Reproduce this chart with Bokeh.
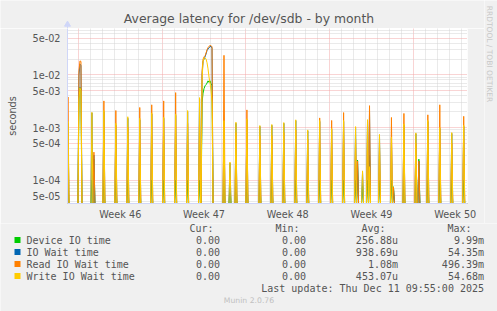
import math
from bokeh.plotting import figure
from bokeh.layouts import column, row
from bokeh.models import FixedTicker, Range1d, CustomJSTickFormatter
from bokeh.core.properties import value
from bokeh.embed import file_html
from bokeh.resources import INLINE

# ---------------- data (hours since Mon 10 Nov 2025 00:00, 2 h resolution) -------------
t_hours = [-21, 1, 3, 5, 27, 31, 51, 75, 99, 123, 147, 171, 195, 219, 243,
           248, 250, 252, 254, 256, 258, 260, 262, 264, 266, 268,
           292, 304, 316, 338, 364, 388, 412, 436, 460, 484, 508, 532, 556, 560,
           570, 580, 584, 604, 628, 632, 653, 677, 683, 701, 725, 749, 773]
device_io = [1.0e-4, 3.5e-3, 5.8e-3, 5.4e-3, 1.0e-4, 2.5e-4, 1.0e-4, 1.0e-4, 1.0e-4, 1.0e-4,
             1.0e-4, 1.0e-4, 1.0e-4, 1.0e-4, 1.0e-4,
             3.0e-3, 4.5e-3, 5.5e-3, 6.2e-3, 6.5e-3, 7.0e-3, 7.7e-3, 7.2e-3, 7.7e-3, 6.8e-3, 6.2e-3,
             1.0e-4, 8.0e-5, 1.0e-4, 1.0e-4, 1.0e-4, 1.0e-4, 1.0e-4, 1.0e-4, 1.0e-4, 1.0e-4,
             1.0e-4, 1.0e-4, 1.0e-4, 2.4e-4, 8.0e-5, 1.0e-4, 3.0e-4, 1.0e-4, 1.0e-4, 7.5e-5,
             1.0e-4, 1.0e-4, 2.5e-4, 1.0e-4, 1.0e-4, 1.0e-4, 1.0e-4]
io_wait = [1.2e-3, 1.0e-2, 1.6e-2, 1.5e-2, 1.9e-3, 3.0e-4, 2.0e-3, 1.1e-3, 1.5e-3, 1.4e-3,
           1.8e-3, 1.5e-3, 1.7e-3, 2.0e-3, 3.5e-3,
           1.0e-2, 1.8e-2, 2.0e-2, 2.2e-2, 2.5e-2, 2.9e-2, 3.1e-2, 3.3e-2, 3.4e-2, 3.5e-2, 3.2e-2,
           1.3e-3, 2.1e-4, 1.2e-3, 1.4e-3, 1.05e-3, 1.1e-3, 1.2e-3, 1.35e-3, 8.6e-4, 1.3e-3,
           9.2e-4, 1.3e-3, 1.0e-3, 2.3e-4, 1.4e-4, 1.35e-3, 2.0e-3, 7.1e-4, 6.4e-4, 7.4e-5,
           1.1e-3, 7.6e-4, 2.3e-4, 1.3e-3, 9.6e-4, 7.7e-4, 1.05e-3]
read_io_wait = [3.8e-3, 1.2e-2, 1.84e-2, 1.8e-2, 0.0, 3.4e-4, 3.2e-3, 2.1e-3, 1.0e-3, 2.4e-3,
                2.7e-3, 3.2e-3, 4.6e-3, 1.2e-3, 1.5e-3,
                1.2e-2, 1.98e-2, 2.2e-2, 2.3e-2, 2.6e-2, 3.0e-2, 3.3e-2, 3.5e-2, 3.6e-2, 3.6e-2, 3.4e-2,
                2.35e-2, 0.0, 8.0e-4, 2.16e-3, 7.0e-4, 7.0e-4, 8.0e-4, 9.0e-4, 6.0e-4, 1.52e-3,
                1.36e-3, 1.92e-3, 6.0e-4, 2.3e-4, 0.0, 9.0e-4, 2.6e-3, 5.0e-4, 1.55e-3, 7.4e-5,
                1.85e-3, 5.0e-4, 2.3e-4, 1.74e-3, 2.7e-3, 5.0e-4, 1.63e-3]
write_io_wait = [1.3e-3, 3.5e-3, 5.6e-3, 5.0e-3, 1.94e-3, 0.0, 2.1e-3, 1.2e-3, 1.6e-3, 1.5e-3,
                 1.9e-3, 1.56e-3, 1.8e-3, 2.1e-3, 3.7e-3,
                 8.0e-3, 1.8e-2, 2.1e-2, 2.1e-2, 2.0e-2, 1.7e-2, 1.3e-2, 9.0e-3, 7.0e-3, 5.0e-3, 3.0e-3,
                 1.35e-3, 2.2e-4, 1.26e-3, 1.46e-3, 1.09e-3, 1.14e-3, 1.24e-3, 1.4e-3, 9.0e-4, 1.36e-3,
                 9.6e-4, 1.36e-3, 1.04e-3, 0.0, 1.5e-4, 1.41e-3, 1.8e-4, 7.4e-4, 6.6e-4, 0.0,
                 1.17e-3, 7.9e-4, 0.0, 1.36e-3, 1.0e-3, 8.0e-4, 1.1e-3]

series_names = ["Device IO time", "IO Wait time", "Read IO Wait time", "Write IO Wait time"]
series_colors = ["#00CC00", "#0066B3", "#FF8000", "#FFCC00"]
cur_vals = ["0.00", "0.00", "0.00", "0.00"]
min_vals = ["0.00", "0.00", "0.00", "0.00"]
avg_vals = ["256.88u", "938.69u", "1.08m", "453.07u"]
max_vals = ["9.99m", "54.35m", "496.39m", "54.68m"]
week_ticks = [84, 252, 420, 588, 756]
week_labels = ["Week 46", "Week 47", "Week 48", "Week 49", "Week 50"]
y_ticks = [5e-5, 1e-4, 5e-4, 1e-3, 5e-3, 1e-2, 5e-2]
title_text = "Average latency for /dev/sdb - by month"
last_update = "Last update: Thu Dec 11 09:55:00 2025"

X0, X1 = -22.0, 780.6
Y0, Y1 = 3.6e-5, 7.6e-2
STEP = 2.0

# build paths with baseline zeros between samples (zero drawn at the bottom edge)
def build(times, *cols):
    xt = [X0]
    outs = [[0.0] for _ in cols]
    prev = None
    for i, t in enumerate(times):
        if prev is None or t - prev > STEP + 0.5:
            if prev is not None:
                xt.append(prev + STEP)
                for o in outs:
                    o.append(0.0)
            xt.append(t - STEP)
            for o in outs:
                o.append(0.0)
        xt.append(t)
        for o, c in zip(outs, cols):
            o.append(c[i])
        prev = t
    xt.append(prev + STEP)
    for o in outs:
        o.append(0.0)
    xt.append(X1)
    for o in outs:
        o.append(0.0)
    outs = [[max(v, Y0) for v in o] for o in outs]
    return xt, outs

xs, ys = build(t_hours, device_io, io_wait, read_io_wait, write_io_wait)

BG = "#F0F0F0"
TXT = "#555555"
AXC = "#CFD6F8"
SANS = "DejaVu Sans"
MONO = "DejaVu Sans Mono"

W, H = 497, 311
CW = 484            # chart figure width
TOPH = 28           # top strip height
CH = 195            # chart figure height (canvas y 28..223)
FL, FR, FB = 67, 467, 203


def helper(w, h, x0, x1, y_bottom, y_top):
    f = figure(width=w, height=h, output_backend="svg", toolbar_location=None,
               x_range=Range1d(x0, x1), y_range=Range1d(y_bottom, y_top),
               x_axis_location=None, y_axis_location=None, min_border=0, title=None)
    f.grid.visible = False
    f.background_fill_color = BG
    f.border_fill_color = BG
    f.outline_line_color = None
    return f


# ---------------- chart ----------------
p = figure(width=CW, height=CH, output_backend="svg", toolbar_location=None, title=None,
           y_axis_type="log", x_range=Range1d(X0, X1), y_range=Range1d(Y0, Y1),
           min_border_left=FL, min_border_right=CW - FR, min_border_top=0,
           min_border_bottom=CH - (FB - TOPH))
p.background_fill_color = "#FFFFFF"
p.border_fill_color = BG
p.outline_line_color = None

p.xaxis.ticker = FixedTicker(ticks=week_ticks)
p.xaxis.major_label_overrides = {t: l for t, l in zip(week_ticks, week_labels)}
p.yaxis.ticker = FixedTicker(ticks=y_ticks)
p.yaxis.formatter = CustomJSTickFormatter(code="""
const m = tick.toExponential(0).split('e');
const e = parseInt(m[1]);
return m[0] + 'e' + (e < 0 ? '-' : '+') + String(Math.abs(e)).padStart(2, '0');
""")
for ax in (p.xaxis[0], p.yaxis[0]):
    ax.axis_line_color = AXC
    ax.major_tick_line_color = None
    ax.minor_tick_line_color = None
    ax.major_tick_out = 0
    ax.major_tick_in = 0
    ax.minor_tick_out = 0
    ax.minor_tick_in = 0
    ax.major_label_text_font = SANS
    ax.major_label_text_font_size = "9.7px"
    ax.major_label_text_color = TXT
p.xaxis.major_label_standoff = 5
p.xaxis.axis_label_standoff = 0
p.yaxis.major_label_standoff = 7
p.yaxis.axis_label = "seconds"
p.yaxis.axis_label_text_font = SANS
p.yaxis.axis_label_text_font_size = "9.7px"
p.yaxis.axis_label_text_font_style = "normal"
p.yaxis.axis_label_text_color = TXT
p.yaxis.axis_label_standoff = 12

majors_y, minors_y = [], []
for e in range(-5, 0):
    for m in range(1, 10):
        v = m * 10.0 ** e
        (majors_y if m in (1, 5) else minors_y).append(v)
p.ygrid.ticker = FixedTicker(ticks=majors_y, minor_ticks=minors_y)
p.xgrid.ticker = FixedTicker(ticks=[0, 168, 336, 504, 672],
                             minor_ticks=[24 * d for d in range(-1, 33) if d % 7 != 0])
for g in (p.xgrid[0], p.ygrid[0]):
    g.grid_line_color = "#F2A8A8"
    g.grid_line_dash = "1 1"
    g.grid_line_width = 1
    g.minor_grid_line_color = "#D4D4D4"
    g.minor_grid_line_dash = "1 1"
    g.minor_grid_line_width = 1

for yv, c in zip(ys, series_colors):
    p.line(xs, yv, line_color=c, line_width=1)

# ---------------- top strip (title) ----------------
top = helper(CW, TOPH, 0, CW, TOPH, 0)
top.text(x=[248.5], y=[18.0], text=[title_text], text_font=value(SANS),
         text_font_size="12.4px", text_color=TXT, text_align="center",
         text_baseline="middle")
top.segment(x0=[FL], y0=[24], x1=[FL], y1=[TOPH], line_color=AXC)
top.scatter(x=[FL], y=[24], marker="triangle", size=6, fill_color=AXC, line_color=AXC)

# ---------------- right strip (watermark) ----------------
side = helper(W - CW, TOPH + CH, CW, W, TOPH + CH, 0)
side.text(x=[488.5], y=[53.5], text=["RRDTOOL / TOBI OETIKER"], text_font=value(SANS),
          text_font_size="7.5px", text_color="#C8C8C8", text_align="center",
          text_baseline="middle", angle=-math.pi / 2)

# ---------------- legend ----------------
LT = TOPH + CH
leg = helper(W, H - LT, 0, W, H, LT)
LS = "10px"
def mono(xv, yv, texts, align):
    leg.text(x=xv, y=yv, text=texts, text_font=value(MONO), text_font_size=LS,
             text_color=TXT, text_align=align, text_baseline="middle")

mono([213, 299, 385, 471], [228] * 4, ["Cur:", "Min:", "Avg:", "Max:"], "right")
rows_y = [239.5 + 12 * i for i in range(4)]
leg.rect(x=[17] * 4, y=rows_y, width=6, height=6, fill_color=series_colors, line_color=None)
mono([26] * 4, rows_y, series_names, "left")
mono([219.5] * 4, rows_y, cur_vals, "right")
mono([305.5] * 4, rows_y, min_vals, "right")
mono([397.5] * 4, rows_y, avg_vals, "right")
mono([483.5] * 4, rows_y, max_vals, "right")
mono([483.5], [287.5], [last_update], "right")
leg.text(x=[248.5], y=[300], text=["Munin 2.0.76"], text_font=value(SANS),
         text_font_size="7.7px", text_color="#C0C0C0", text_align="center",
         text_baseline="middle")

layout = column(row(column(row(top), p), side), leg)
open("out.html", "w").write(file_html(layout, INLINE))
